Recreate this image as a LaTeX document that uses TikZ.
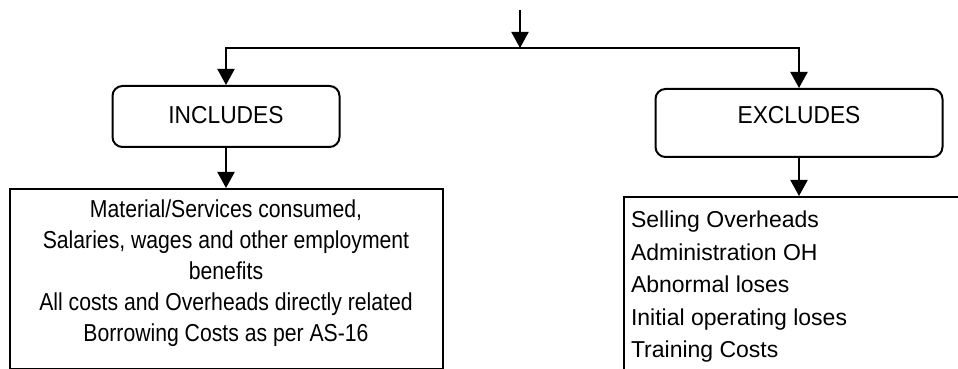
\documentclass[tikz,border=0pt]{standalone}
\usepackage{fontspec}
\setmainfont{Liberation Sans}
\newfontfamily\hdrfont[FakeStretch=0.93]{Liberation Sans}
\newfontfamily\inclfont[FakeStretch=0.865]{Liberation Sans}
\usetikzlibrary{arrows.meta,positioning}

\begin{document}
\begin{tikzpicture}[x=1pt, y=1pt, node distance=40pt,
  hdr/.style={draw, line width=2pt, rounded corners=10pt, inner ysep=0pt,
              font=\hdrfont\fontsize{24.5}{28}\selectfont},
  lst/.style={draw, line width=2pt, inner xsep=0pt},
  arr/.style={-{Triangle[length=16pt, width=17pt]}, line width=2pt}]
  \useasboundingbox (0,0) rectangle (958,369);
  \clip (0,0) rectangle (958,369);
  \coordinate (src) at (520,359);
  \coordinate (split) at (520,321);
  \node[hdr, minimum width=227pt, text height=37.3pt, text depth=23.7pt] (incl) at (226,252.5) {INCLUDES};
  \node[hdr, minimum width=287pt, text height=34.3pt, text depth=33.7pt] (excl) at (799,246) {EXCLUDES};
  \node[lst, below=of incl, inner ysep=10.5pt, font=\inclfont\fontsize{24.5}{31}\selectfont] (inclist)
    {\parbox[t][159pt][t]{433pt}{\centering Material/Services consumed,\\
      Salaries, wages and other employment\\ benefits\\
      All costs and Overheads directly related\\ Borrowing Costs as per AS-16}};
  \node[lst, anchor=north west, inner xsep=7pt, inner ysep=14pt, font=\fontsize{23}{32.5}\selectfont]
    (exclist) at (623,173)
    {\parbox[t][196pt][t]{364pt}{\raggedright Selling Overheads\\ Administration OH\\
      Abnormal loses\\ Initial operating loses\\ Training Costs}};
  \draw[arr] (src) -- (split);
  \draw[arr] (split) -| (incl.north);
  \draw[arr] (split) -| (excl.north);
  \draw[arr] (incl) -- (inclist);
  \draw[arr] (excl.south) -- (excl.south |- exclist.north);
\end{tikzpicture}
\end{document}
